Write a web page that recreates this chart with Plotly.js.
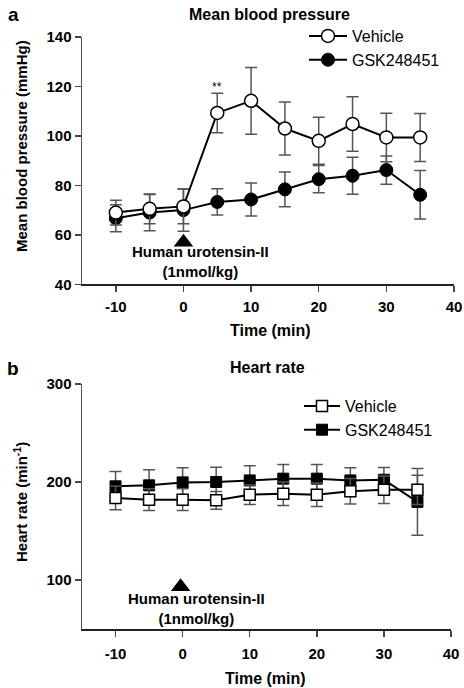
<!DOCTYPE html>
<html>
<head>
<meta charset="utf-8">
<script src="https://cdn.plot.ly/plotly-3.0.1.min.js"></script>
<style>html,body{margin:0;padding:0;background:#fff;}#chart{width:464px;height:688px;}</style>
</head>
<body>
<div id="chart"></div>
<script>
// ---- data ----
const times = [-10, -5, 0, 5, 10, 15, 20, 25, 30, 35];
const mbpVehicle = [69, 70.5, 71.5, 109.3, 114.2, 103, 98, 104.8, 99.4, 99.4];
const mbpVehicleSem = [5, 6, 7, 8, 13.5, 10.7, 9.5, 11, 9.8, 9.7];
const mbpGsk = [66.7, 69, 70, 73.3, 74.3, 78.4, 82.5, 83.9, 86.2, 76.2];
const mbpGskSem = [5.5, 7.3, 8.5, 5.3, 6.7, 7, 5.5, 7.5, 5.7, 9.8];
const hrVehicle = [183.8, 182, 182, 181.3, 187, 188, 187, 190.5, 192, 192];
const hrVehicleSem = [12, 11, 11, 9, 10, 12, 12, 13, 14, 15];
const hrGsk = [195.6, 196.6, 199.6, 200, 201.6, 203.4, 203.4, 201.6, 202.3, 179.7];
const hrGskSem = [15, 16, 15, 15, 15, 14.5, 14.5, 13, 12.5, 34];
const seriesNames = ['Vehicle', 'GSK248451'];
const timeTicks = [-10, 0, 10, 20, 30, 40];
const timeTickText = ['-10', '0', '10', '20', '30', '40'];
const mbpTicks = [40, 60, 80, 100, 120, 140];
const hrTicks = [100, 200, 300];
const injectionTime = [0];
const injectionMarkA = [57];
const injectionMarkB = [93];
const injectionLabel = 'Human urotensin-II<br>(1nmol/kg)';
const sigTime = 5, sigLabel = '**', sigLevel = 119.8;

// ---- layout helpers ----
const W = 464, H = 688, L = 82, R = 10, T = 37, B = 59;
const pw = W - L - R, ph = H - T - B;
const px2x = p => (p - L) / pw;
const py2y = p => (H - B - p) / ph;

const FONT = 'Liberation Sans, Arial, Helvetica, sans-serif';
const errStyle = {type: 'data', color: '#555', thickness: 1.5, width: 6, visible: true};

const traces = [
  {x: times, y: mbpGsk, name: seriesNames[1], mode: 'lines+markers', xaxis: 'x', yaxis: 'y',
   legend: 'legend', legendrank: 2,
   line: {color: '#000', width: 2}, marker: {symbol: 'circle', size: 13, color: '#000', line: {color: '#000', width: 1}},
   error_y: Object.assign({array: mbpGskSem}, errStyle)},
  {x: times, y: mbpVehicle, name: seriesNames[0], mode: 'lines+markers', xaxis: 'x', yaxis: 'y',
   legend: 'legend', legendrank: 1,
   line: {color: '#000', width: 2}, marker: {symbol: 'circle', size: 13, color: '#fff', line: {color: '#000', width: 1.5}},
   error_y: Object.assign({array: mbpVehicleSem}, errStyle)},
  {x: times, y: hrGsk, name: seriesNames[1], mode: 'lines+markers', xaxis: 'x2', yaxis: 'y2',
   legend: 'legend2', legendrank: 2,
   line: {color: '#000', width: 2}, marker: {symbol: 'square', size: 11, color: '#000', line: {color: '#000', width: 1}},
   error_y: Object.assign({array: hrGskSem}, errStyle)},
  {x: times, y: hrVehicle, name: seriesNames[0], mode: 'lines+markers', xaxis: 'x2', yaxis: 'y2',
   legend: 'legend2', legendrank: 1,
   line: {color: '#000', width: 2}, marker: {symbol: 'square', size: 11, color: '#fff', line: {color: '#000', width: 1.5}},
   error_y: Object.assign({array: hrVehicleSem}, errStyle)},
  {x: injectionTime, y: injectionMarkA, mode: 'markers', xaxis: 'x', yaxis: 'y', showlegend: false, hoverinfo: 'skip',
   marker: {symbol: 'triangle-up', size: 17, color: '#000'}},
  {x: injectionTime.map(t => t - 0.3), y: injectionMarkB, mode: 'markers', xaxis: 'x2', yaxis: 'y2', showlegend: false, hoverinfo: 'skip',
   marker: {symbol: 'triangle-up', size: 17, color: '#000'}}
];

const axisCommon = {
  showline: true, linecolor: '#555', linewidth: 1.5, ticks: 'outside', ticklen: 6, tickwidth: 1.5, tickcolor: '#444',
  showgrid: false, zeroline: false, tickfont: {family: FONT, size: 15, color: '#000', weight: 'bold'}
};

const bold = size => ({family: FONT, size: size, color: '#000', weight: 'bold'});
const ann = (o) => Object.assign({showarrow: false, xanchor: 'center', yanchor: 'middle'}, o);

const annotations = [
  ann({text: 'a', x: px2x(13), y: py2y(14), xref: 'paper', yref: 'paper', font: bold(19)}),
  ann({text: 'b', x: px2x(13), y: py2y(368), xref: 'paper', yref: 'paper', font: bold(19)}),
  ann({text: 'Mean blood pressure', x: px2x(269), y: py2y(14), xref: 'paper', yref: 'paper', font: bold(16)}),
  ann({text: 'Heart rate', x: px2x(267), y: py2y(367), xref: 'paper', yref: 'paper', font: bold(16)}),
  ann({text: 'Mean blood pressure (mmHg)', textangle: -90, x: px2x(21), y: py2y(146), xref: 'paper', yref: 'paper', font: bold(15)}),
  ann({text: 'Heart rate (min<sup>-1</sup>)', textangle: -90, x: px2x(20), y: py2y(502), xref: 'paper', yref: 'paper', font: bold(15)}),
  ann({text: 'Time (min)', x: px2x(270), y: py2y(330), xref: 'paper', yref: 'paper', font: bold(16)}),
  ann({text: 'Time (min)', x: px2x(265), y: py2y(678), xref: 'paper', yref: 'paper', font: bold(16)}),
  ann({text: injectionLabel, x: 2.45, y: 49.2, xref: 'x', yref: 'y', font: bold(15)}),
  ann({text: injectionLabel, x: 2.0, y: 70.5, xref: 'x2', yref: 'y2', font: bold(15)}),
  ann({text: sigLabel, x: sigTime, y: sigLevel, xref: 'x', yref: 'y', font: {family: FONT, size: 12, color: '#000'}})
];

const layout = {
  width: W, height: H,
  margin: {l: L, r: R, t: T, b: B, pad: 0},
  paper_bgcolor: '#fff', plot_bgcolor: '#fff',
  font: {family: FONT, color: '#000'},
  xaxis: Object.assign({}, axisCommon, {domain: [0, 1], anchor: 'y', range: [-15, 40], tickvals: timeTicks, ticktext: timeTickText, linecolor: '#222', ticklabelstandoff: 2}),
  yaxis: Object.assign({}, axisCommon, {domain: [py2y(284.3), 1], anchor: 'x', range: [40, 140], tickvals: mbpTicks}),
  xaxis2: Object.assign({}, axisCommon, {domain: [0, px2x(451)], anchor: 'y2', range: [-15, 40], tickvals: timeTicks, ticktext: timeTickText, linecolor: '#222', ticklabelstandoff: 4}),
  yaxis2: Object.assign({}, axisCommon, {domain: [0, py2y(384)], anchor: 'x2', range: [50, 300], tickvals: hrTicks}),
  showlegend: true,
  legend: {x: px2x(304), y: py2y(19), xref: 'paper', yref: 'paper', xanchor: 'left', yanchor: 'top',
           bgcolor: 'rgba(0,0,0,0)', font: {family: FONT, size: 16, color: '#000'}, tracegroupgap: 0, itemwidth: 38},
  legend2: {x: px2x(299), y: py2y(389), xref: 'paper', yref: 'paper', xanchor: 'left', yanchor: 'top',
           bgcolor: 'rgba(0,0,0,0)', font: {family: FONT, size: 16, color: '#000'}, tracegroupgap: 0, itemwidth: 36},
  annotations: annotations
};

Plotly.newPlot('chart', traces, layout, {displayModeBar: false, staticPlot: true});
</script>
</body>
</html>
